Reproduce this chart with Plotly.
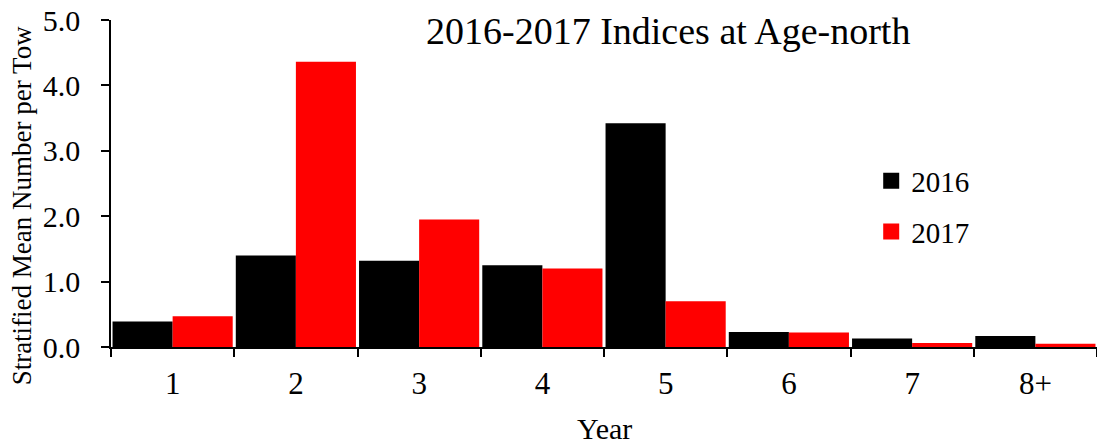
import plotly.graph_objects as go

categories = ["1", "2", "3", "4", "5", "6", "7", "8+"]
values_2016 = [0.39, 1.40, 1.32, 1.25, 3.42, 0.23, 0.13, 0.17]
values_2017 = [0.47, 4.36, 1.95, 1.20, 0.70, 0.22, 0.06, 0.05]
series_names = ["2016", "2017"]
series_colors = ["#000000", "#ff0000"]
y_ticks = [0, 1, 2, 3, 4, 5]
y_tick_labels = ["0.0", "1.0", "2.0", "3.0", "4.0", "5.0"]

FONT = "Liberation Serif, Times New Roman, serif"

fig = go.Figure()
for name, vals, col, grp in zip(series_names, [values_2016, values_2017], series_colors, ["a", "b"]):
    fig.add_trace(go.Bar(x=categories, y=vals, name=name, legendgroup=grp, showlegend=False,
                         marker=dict(color=col, line=dict(width=0))))
for name, col, grp in zip(series_names, series_colors, ["a", "b"]):
    fig.add_trace(go.Scatter(x=[None], y=[None], mode="markers", name=name, legendgroup=grp,
                             marker=dict(symbol="square", size=16, color=col)))

fig.update_layout(
    width=1097, height=444,
    margin=dict(l=111, r=0, t=20, b=97),
    barmode="group", bargap=0.025, bargroupgap=0,
    plot_bgcolor="white", paper_bgcolor="white",
    font=dict(family=FONT, color="black", size=29),
    showlegend=True,
    legend=dict(x=0.771, y=0.43, xanchor="left", yanchor="middle",
                font=dict(size=29, family=FONT), bgcolor="rgba(0,0,0,0)",
                traceorder="grouped", tracegroupgap=10, itemwidth=30),
    annotations=[
        dict(text="2016-2017 Indices at Age-north", x=0.565, y=0.965,
             xref="paper", yref="paper", xanchor="center", yanchor="middle",
             showarrow=False, font=dict(size=38, family=FONT)),
        dict(text="Stratified Mean Number per Tow", x=-0.0903, y=0.433,
             xref="paper", yref="paper", xanchor="center", yanchor="middle",
             textangle=-90, showarrow=False, font=dict(size=27, family=FONT)),
        dict(text="Year", x=0.5, y=-0.248,
             xref="paper", yref="paper", xanchor="center", yanchor="middle",
             showarrow=False, font=dict(size=30, family=FONT)),
    ],
)
fig.update_xaxes(
    type="category", showline=True, linecolor="black", linewidth=1.5,
    ticks="outside", tickson="boundaries", ticklen=8, tickcolor="black", tickwidth=1.5,
    showgrid=False, tickfont=dict(size=31), automargin=False, ticklabelstandoff=8,
)
fig.update_yaxes(
    range=[0, 5], tickvals=y_ticks, ticktext=y_tick_labels,
    showline=True, linecolor="black", linewidth=1.5,
    ticks="outside", ticklen=8, tickcolor="black", tickwidth=1.5,
    showgrid=False, zeroline=False, tickfont=dict(size=30), automargin=False,
    ticklabelstandoff=15,
)
fig.write_html("out.html", config={"displayModeBar": False},
               post_script="document.body.style.margin='0';")
